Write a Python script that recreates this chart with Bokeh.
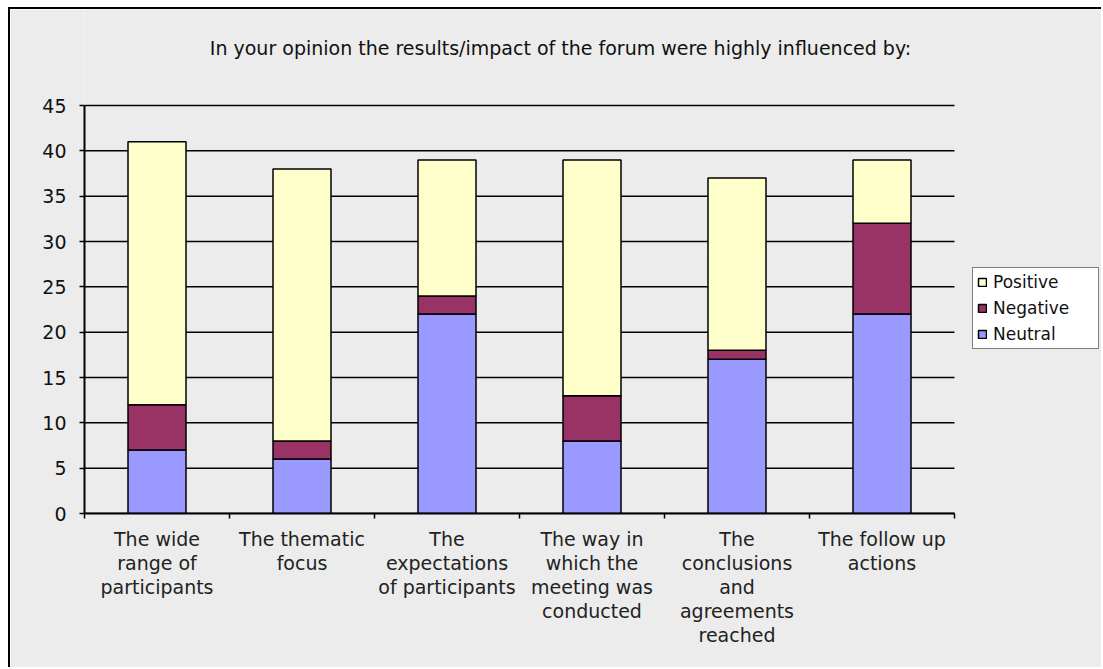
from bokeh.plotting import figure
from bokeh.models import ColumnDataSource, FixedTicker, Legend, LegendItem, Label
from bokeh.embed import file_html
from bokeh.resources import INLINE

categories = [
    "The wide\nrange of\nparticipants",
    "The thematic\nfocus",
    "The\nexpectations\nof participants",
    "The way in\nwhich the\nmeeting was\nconducted",
    "The\nconclusions\nand\nagreements\nreached",
    "The follow up\nactions",
]
neutral = [7, 6, 22, 8, 17, 22]
negative = [5, 2, 2, 5, 1, 10]
positive = [29, 30, 15, 26, 19, 7]
series = ["Neutral", "Negative", "Positive"]
colors = ["#9999FF", "#993366", "#FFFFCC"]
y_ticks = [0, 5, 10, 15, 20, 25, 30, 35, 40, 45]
title_text = "In your opinion the results/impact of the forum were highly influenced by:"

FONT = "DejaVu Sans"
BG = "#ECECEC"

# layout (pixels)
W, H = 1093, 660
LEFT, BOTTOM = 74, 156
CAT_PX = 145.0
UNIT_PX = 408.0 / 45.0
frame_w = W - LEFT
frame_h = H - BOTTOM

n = len(categories)
xpos = [i + 0.5 for i in range(n)]
source = ColumnDataSource(dict(x=xpos, Neutral=neutral, Negative=negative, Positive=positive))
grid_src = ColumnDataSource(dict(y=y_ticks, x0=[0] * len(y_ticks), x1=[n] * len(y_ticks)))

p = figure(width=W, height=H, x_range=(0, frame_w / CAT_PX), y_range=(0, frame_h / UNIT_PX),
           output_backend="svg", toolbar_location=None,
           min_border_left=LEFT, min_border_right=0, min_border_top=0, min_border_bottom=BOTTOM)
p.styles = {"margin-left": "8px", "margin-top": "7px",
            "border-left": "2px solid black", "border-top": "2px solid black"}
p.background_fill_color = BG
p.border_fill_color = BG
p.outline_line_color = None

# horizontal grid lines, only over the category area
p.segment(x0="x0", x1="x1", y0="y", y1="y", source=grid_src, line_color="black", line_width=1.5)

renderers = p.vbar_stack(series, x="x", width=0.4, source=source, fill_color=colors,
                         line_color="black", line_width=1.5)

# axes
p.yaxis.ticker = FixedTicker(ticks=y_ticks)
p.yaxis.bounds = (0, max(y_ticks))
p.yaxis.axis_line_color = "black"
p.yaxis.axis_line_width = 2
p.yaxis.major_tick_out = 5
p.yaxis.major_tick_in = 0
p.yaxis.major_tick_line_width = 1.5
p.yaxis.minor_tick_line_color = None
p.yaxis.major_label_standoff = 13
p.yaxis.major_label_text_font = FONT
p.yaxis.major_label_text_font_size = "19px"
p.yaxis.major_label_text_color = "#111111"

p.xaxis.ticker = FixedTicker(ticks=xpos, minor_ticks=list(range(n + 1)))
p.xaxis.bounds = (0, n)
p.xaxis.major_label_overrides = {x: c for x, c in zip(xpos, categories)}
p.xaxis.major_tick_line_color = None
p.xaxis.major_tick_out = 0
p.xaxis.minor_tick_out = 5
p.xaxis.minor_tick_in = 0
p.xaxis.minor_tick_line_color = "black"
p.xaxis.minor_tick_line_width = 1.5
p.xaxis.axis_line_color = "black"
p.xaxis.axis_line_width = 2
p.xaxis.major_label_standoff = 9
p.xaxis.major_label_text_font = FONT
p.xaxis.major_label_text_font_size = "19px"
p.xaxis.major_label_text_color = "#222222"
p.xaxis.major_label_text_line_height = 1.1

p.xgrid.grid_line_color = None
p.ygrid.grid_line_color = None

# title
p.add_layout(Label(x=476, y=466, x_units="screen", y_units="screen", text=title_text,
                   text_align="center", text_baseline="middle",
                   text_font=FONT, text_font_size="19px", text_color="#111111"))

# legend
items = [LegendItem(label=s, renderers=[r]) for s, r in zip(series, renderers)][::-1]
legend = Legend(items=items, location=(888, 164), orientation="vertical",
                background_fill_color="white", background_fill_alpha=1.0,
                border_line_color="black", border_line_width=1.5,
                label_text_font=FONT, label_text_font_size="17px",
                label_text_color="#111111",
                glyph_width=10, glyph_height=10, label_standoff=6,
                label_height=17, label_width=101, spacing=6, padding=4, margin=0)
p.add_layout(legend, "center")

open("out.html", "w").write(file_html(p, INLINE))
